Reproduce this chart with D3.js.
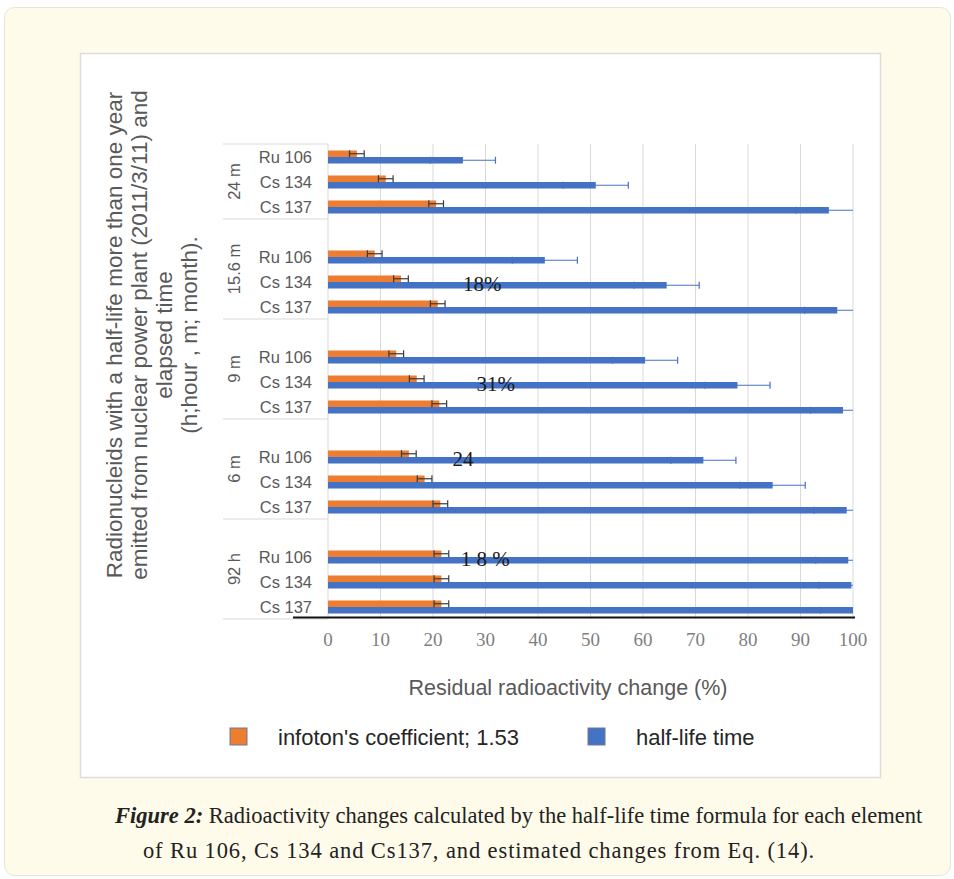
<!DOCTYPE html>
<html>
<head>
<meta charset="utf-8">
<script src="https://cdn.jsdelivr.net/npm/d3@7"></script>
<style>
  body { margin: 0; background: #fff; }
  text { font-family: "Liberation Sans", Arial, sans-serif; }
  .serif { font-family: "Liberation Serif", "Times New Roman", serif; }
</style>
</head>
<body>
<svg id="chart" width="954" height="879"></svg>
<script>
// elapsed time groups, top to bottom
const groups = ["24 m", "15.6 m", "9 m", "6 m", "92 h"];
const nuclides = ["Ru 106", "Cs 134", "Cs 137"];

// residual radioactivity (%) per group, per nuclide
const infoton = [
  [5.5, 11.0, 20.6],
  [8.9, 13.9, 20.9],
  [13.0, 16.9, 21.2],
  [15.4, 18.4, 21.4],
  [21.6, 21.6, 21.6]
];
const halfLife = [
  [25.7, 51.0, 95.4],
  [41.3, 64.5, 97.0],
  [60.4, 78.0, 98.1],
  [71.5, 84.7, 98.8],
  [99.1, 99.7, 100]
];
const infotonErr = 1.4;
const halfLifeErr = 6.2;

const xTicks = [0, 10, 20, 30, 40, 50, 60, 70, 80, 90, 100];
const seriesNames = ["infoton's coefficient; 1.53", "half-life time"];

// hand-written notes on the figure: text, x value, group, nuclide
const notes = [
  ["18%", 25.7, "15.6 m", "Cs 134"],
  ["31%", 28.3, "9 m", "Cs 134"],
  ["24", 23.7, "6 m", "Ru 106"],
  ["1 8 %", 25.3, "92 h", "Ru 106"]
];

const yTitle = [
  "Radionucleids with a half-life more than one year",
  "emitted from nuclear power plant (2011/3/11)  and",
  "elapsed time",
  "(h;hour , m; month)."
];

const orange = "#ED7D31", blue = "#4472C4";

const svg = d3.select("#chart");

// page card + figure panel
svg.append("rect")
  .attr("x", 4.5).attr("y", 7.5).attr("width", 946).attr("height", 868)
  .attr("rx", 10).attr("fill", "#fffbea").attr("stroke", "#e7e4d6");
svg.append("rect")
  .attr("x", 80.5).attr("y", 53.5).attr("width", 800).attr("height", 724)
  .attr("fill", "#fff").attr("stroke", "#dddddd").attr("stroke-width", 1.5);

// rows: one empty row at the top of every group but the first
let rows = [];
groups.forEach(function(g, i) {
  if (i > 0) rows.push({ group: g, key: g + "|gap", gap: true });
  nuclides.forEach(function(n, j) {
    rows.push({ group: g, nuclide: n, key: g + "|" + n,
      infoton: infoton[i][j], halfLife: halfLife[i][j] });
  });
});

let x = d3.scaleLinear().domain([0, 100]).range([328, 853]);
let y = d3.scaleBand().domain(rows.map(function(d) { return d.key; })).range([144, 619]);
let sub = d3.scaleBand().domain(["infoton", "halfLife"])
  .range([0.5, y.bandwidth() + 0.5]).paddingOuter(0.92);

// vertical gridlines
svg.append("g").selectAll("line")
  .data(xTicks)
  .enter().append("line")
  .attr("x1", function(d) { return x(d); })
  .attr("x2", function(d) { return x(d); })
  .attr("y1", 144).attr("y2", 619)
  .attr("stroke", "#d9d9d9").attr("stroke-width", 1);

// category axis box
let groupBounds = groups.map(function(g) {
  let r = rows.filter(function(d) { return d.group === g; });
  return { group: g, top: y(r[0].key), bottom: y(r[r.length - 1].key) + y.bandwidth() };
});
let edges = groupBounds.map(function(d) { return d.top; }).concat([619]);
svg.append("g").selectAll("line")
  .data(edges)
  .enter().append("line")
  .attr("x1", 223).attr("x2", x(0))
  .attr("y1", function(d) { return d; }).attr("y2", function(d) { return d; })
  .attr("stroke", "#d9d9d9").attr("stroke-width", 1.2);

svg.append("g").selectAll("text")
  .data(rows.filter(function(d) { return !d.gap; }))
  .enter().append("text")
  .attr("x", 312)
  .attr("y", function(d) { return y(d.key) + y.bandwidth() / 2 + 6; })
  .attr("text-anchor", "end")
  .attr("font-size", 16.5).attr("fill", "#595959")
  .text(function(d) { return d.nuclide; });

svg.append("g").selectAll("text")
  .data(groupBounds)
  .enter().append("text")
  .attr("transform", function(d) { return "translate(240," + (d.top + d.bottom) / 2 + ") rotate(-90)"; })
  .attr("text-anchor", "middle")
  .attr("font-size", 16.5).attr("fill", "#595959")
  .text(function(d) { return d.group; });

// bars
let dataRows = rows.filter(function(d) { return !d.gap; });
let bars = svg.append("g");
bars.selectAll(".bar-o")
  .data(dataRows)
  .enter().append("rect")
  .attr("class", "bar-o")
  .attr("x", x(0))
  .attr("y", function(d) { return y(d.key) + sub("infoton"); })
  .attr("width", function(d) { return x(d.infoton) - x(0); })
  .attr("height", sub.bandwidth())
  .attr("fill", orange);
bars.selectAll(".bar-b")
  .data(dataRows)
  .enter().append("rect")
  .attr("class", "bar-b")
  .attr("x", x(0))
  .attr("y", function(d) { return y(d.key) + sub("halfLife"); })
  .attr("width", function(d) { return x(d.halfLife) - x(0); })
  .attr("height", sub.bandwidth())
  .attr("fill", blue);

// error bars
function errorBars(field, err, color) {
  let g = svg.append("g").attr("stroke", color).attr("stroke-width", 1.2);
  dataRows.forEach(function(d) {
    let v = d[field];
    let cy = y(d.key) + sub(field) + sub.bandwidth() / 2;
    let lo = v - err, hi = Math.min(v + err, 100);
    g.append("line").attr("x1", x(lo)).attr("x2", x(hi)).attr("y1", cy).attr("y2", cy);
    g.append("line").attr("x1", x(lo)).attr("x2", x(lo)).attr("y1", cy - 3.5).attr("y2", cy + 3.5);
    if (v + err <= 100)
      g.append("line").attr("x1", x(hi)).attr("x2", x(hi)).attr("y1", cy - 3.5).attr("y2", cy + 3.5);
  });
}
errorBars("infoton", infotonErr, "#3a3a3a");
errorBars("halfLife", halfLifeErr, blue);

// black base line
svg.append("line")
  .attr("x1", 293).attr("x2", x(100) + 2).attr("y1", 617.5).attr("y2", 617.5)
  .attr("stroke", "#111").attr("stroke-width", 2);

// x axis labels
svg.append("g").selectAll("text")
  .data(xTicks)
  .enter().append("text")
  .attr("class", "serif")
  .attr("x", function(d) { return x(d); })
  .attr("y", 646)
  .attr("text-anchor", "middle")
  .attr("font-size", 19).attr("fill", "#7f7f7f")
  .text(function(d) { return d; });

svg.append("text")
  .attr("x", 568).attr("y", 695)
  .attr("text-anchor", "middle")
  .attr("font-size", 21.5).attr("fill", "#595959")
  .text("Residual radioactivity change (%)");

// y axis title
svg.append("g").selectAll("text")
  .data(yTitle)
  .enter().append("text")
  .attr("transform", function(d, i) { return "translate(" + (122 + i * 25) + ",335) rotate(-90)"; })
  .attr("text-anchor", "middle")
  .attr("font-size", 22.5).attr("fill", "#595959")
  .text(function(d) { return d; });

// notes
svg.append("g").selectAll("text")
  .data(notes)
  .enter().append("text")
  .attr("class", "serif")
  .attr("x", function(d) { return x(d[1]); })
  .attr("y", function(d) { return y(d[2] + "|" + d[3]) + y.bandwidth() / 2 + 9; })
  .attr("font-size", 21).attr("fill", "#1a1a1a")
  .text(function(d) { return d[0]; });

// legend
let legendX = [230, 588];
let legend = svg.append("g").selectAll("g")
  .data(seriesNames)
  .enter().append("g")
  .attr("transform", function(d, i) { return "translate(" + legendX[i] + ",728)"; });
legend.append("rect")
  .attr("width", 17).attr("height", 17)
  .attr("fill", function(d, i) { return i === 0 ? orange : blue; })
  .attr("stroke", "#6d7a96").attr("stroke-width", 1);
legend.append("text")
  .attr("x", 48).attr("y", 17)
  .attr("font-size", 22).attr("fill", "#262626")
  .text(function(d) { return d; });

// caption
let cap1 = svg.append("text").attr("class", "serif")
  .attr("x", 115).attr("y", 823).attr("font-size", 22.5).attr("fill", "#222");
cap1.append("tspan").attr("font-weight", "bold").attr("font-style", "italic").text("Figure 2:");
cap1.append("tspan").text(" Radioactivity changes calculated by the half-life time formula for each element");
svg.append("text").attr("class", "serif")
  .attr("x", 479).attr("y", 858).attr("text-anchor", "middle")
  .attr("font-size", 22.5).attr("letter-spacing", 0.9).attr("fill", "#222")
  .text("of Ru 106, Cs 134 and Cs137, and estimated changes from Eq. (14).");
</script>
</body>
</html>
